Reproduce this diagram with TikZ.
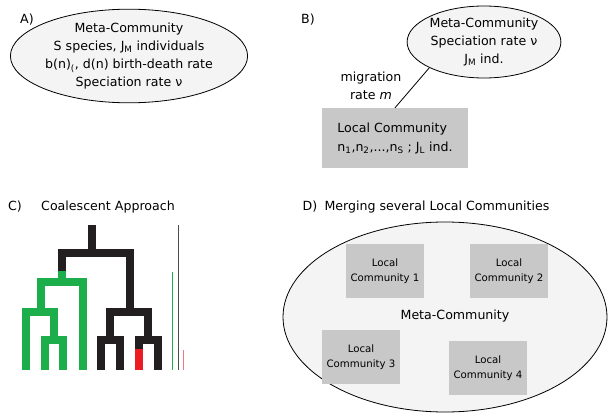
\documentclass[tikz,border=0pt]{standalone}
\usepackage{fontspec}
\setmainfont{DejaVu Sans}
\usepackage{tikz}
\usetikzlibrary{positioning}
\usetikzlibrary{shapes.geometric}
\definecolor{ellfill}{RGB}{244,244,244}
\definecolor{boxgrey}{RGB}{200,200,200}
\definecolor{treeblack}{RGB}{35,31,32}
\definecolor{treegreen}{RGB}{27,174,75}
\definecolor{treered}{RGB}{237,28,36}
\tikzset{
  txt/.style={font=\fontsize{12.6}{18}\selectfont, inner sep=0pt},
  metaell/.style={ellipse, draw, line width=0.8pt, fill=ellfill, inner sep=0pt, align=center,
                  font=\fontsize{12.6}{18}\selectfont},
  localbox/.style={fill=boxgrey, minimum width=78pt, minimum height=54pt, inner sep=0pt, align=center,
                   font=\fontsize{10.2}{15}\selectfont},
  branch/.style={line width=7.6pt, line cap=butt, line join=miter},
  timeline/.style={line width=1pt}
}
\newcommand{\sub}[1]{\textsubscript{#1}}

\begin{document}
\begin{tikzpicture}[x=1pt,y=-1pt]
\useasboundingbox (0,0) rectangle (608,415);

% =======================
% A) Meta-Community
% =======================
\node[txt] (labA) at (27,20) {A)};
\node[metaell, minimum width=208pt, minimum height=90pt] (metaA) at (129,56)
  {Meta-Community\\ S species, J\sub{M} individuals\\ b(n)\sub{(}, d(n) birth-death rate\\ Speciation rate ν};

% =======================
% B) Local Community
% =======================
\node[txt] (labB) at (308,20) {B)};
\node[metaell, minimum width=132pt, minimum height=72pt] (metaB) at (484,42)
  {Meta-Community\\ Speciation rate ν\\ J\sub{M} ind.};
\node[localbox, minimum width=146pt, minimum height=60pt, align=left,
      font=\fontsize{12.6}{19}\selectfont] (localB) at (395,138)
  {Local Community\\ n\sub{1},n\sub{2},...,n\sub{S} ; J\sub{L} ind.};
\draw[line width=0.8pt] (metaB.south west) -- (localB.north);
\node[txt, align=center] (migr) at (371,86) {migration\\ rate \textit{m}};

% =======================
% C) Coalescent Approach
% =======================
\node[txt] (labC) at (15,207) {C)};
\node[txt] (titleC) at (108,207) {Coalescent Approach};

% Root
\draw[branch,treeblack] (92,225) -- (92,253);
\draw[branch,treeblack] (62,271) |- (130,253) -- (130,312);

% Green clade
\draw[branch,treegreen] (62,271) -- (62,282);
\draw[branch,treegreen] (41,312) |- (83,282) -- (83,370);
\draw[branch,treegreen] (26,370) |- (54,312) -- (54,340);
\draw[branch,treegreen] (45,370) |- (63,340) -- (63,370);

% Black clade
\draw[branch,treeblack] (110,340) |- (148,312) -- (148,340);
\draw[branch,treeblack] (101,370) |- (120,340) -- (120,370);
\draw[branch,treeblack] (139,349) |- (158,340) -- (158,370);
\draw[branch,treered] (139,349) -- (139,370);

% Time lines
\draw[timeline,treegreen] (172,272) -- (172,370);
\draw[timeline,black!70] (178,225) -- (178,370);
\draw[timeline,treered!60] (183,350) -- (183,370);

% =======================
% D) Merging Local Communities
% =======================
\node[txt] (labD) at (310,207) {D)};
\node[txt] (titleD) at (437,207) {Merging several Local Communities};
\node[metaell, minimum width=324pt, minimum height=190pt] (metaD) at (445,317) {};
\node[txt] (metaDtxt) at (455,316) {Meta-Community};

\node[localbox] (lc1) at (385,271) {Local\\ Community 1};
\node[localbox] (lc2) at (509,271) {Local\\ Community 2};
\node[localbox] (lc3) at (361,357) {Local\\ Community 3};
\node[localbox] (lc4) at (488,368) {Local\\ Community 4};

\end{tikzpicture}
\end{document}
